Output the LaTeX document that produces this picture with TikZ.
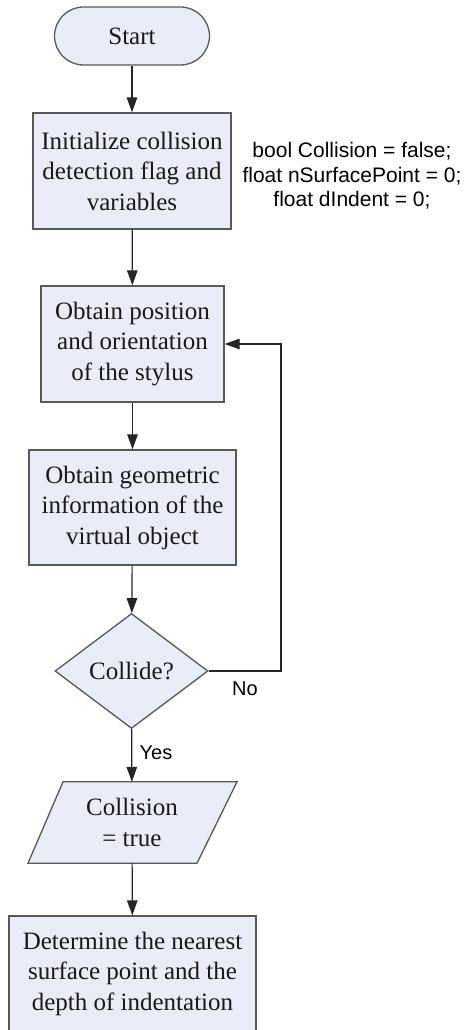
\documentclass[tikz,border=0pt]{standalone}
\usepackage{fontspec}
\setmainfont{Liberation Serif}
\newfontfamily\codefont{Liberation Sans}
\usetikzlibrary{arrows.meta,calc,shapes.geometric}

\definecolor{boxfill}{HTML}{E8EDF7}
\definecolor{boxline}{HTML}{595959}
\definecolor{wire}{HTML}{262626}

\tikzset{
  flowbox/.style={draw=boxline, fill=boxfill, line width=1.3pt, inner sep=0pt,
    align=center, text=black!90, font=\fontsize{25}{30.5}\selectfont},
  startbox/.style={flowbox, rounded corners=29pt, minimum width=155pt, minimum height=58pt},
  decision/.style={flowbox, diamond, aspect=1.33, minimum width=153pt, minimum height=115pt},
  iotext/.style={inner sep=0pt, align=center, text=black!90,
    font=\fontsize{25}{30.5}\selectfont, minimum width=140pt, minimum height=81pt},
  codetext/.style={align=center, inner sep=0pt, font=\codefont\fontsize{21}{24.5}\selectfont},
  branchlabel/.style={inner sep=0pt, font=\codefont\fontsize{20}{22}\selectfont},
  flow/.style={draw=wire, line width=1.2pt, -{Triangle[length=15pt,width=10.5pt]}}
}

\begin{document}
\begin{tikzpicture}[x=1pt,y=-1pt]
  \useasboundingbox (0,0) rectangle (466,1030);
  \clip (0,0) rectangle (466,1030);

  \node[startbox] (start) at (132,36) {Start};

  \node[flowbox, minimum width=198pt, minimum height=116pt] (init) at (132,171)
    {Initialize collision\\detection flag and\\variables};

  \node[codetext] (vars) at (352,176)
    {bool Collision = false;\\float nSurfacePoint = 0;\\float dIndent = 0;};

  \node[flowbox, minimum width=183pt, minimum height=116pt] (pose) at (132.5,344)
    {Obtain position\\and orientation\\of the stylus};

  \node[flowbox, minimum width=207pt, minimum height=115pt] (geom) at (132.5,507.5)
    {Obtain geometric\\information of the\\virtual object};

  \node[decision] (hit) at (131.5,671) {Collide?};

  % parallelogram drawn around an invisible text node
  \node[iotext] (flag) at (132,822.5) {Collision\\= true};
  \draw[draw=boxline, fill=boxfill, line width=1.3pt]
    ($(flag.north)+(-69,0)$) -- ($(flag.north)+(105,0)$) --
    ($(flag.south)+(65,0)$) -- ($(flag.south)+(-104,0)$) -- cycle;
  \node[iotext] at (flag) {Collision\\= true};

  \node[flowbox, minimum width=247pt, minimum height=115pt] (depth) at (132.5,973.5)
    {Determine the nearest\\surface point and the\\depth of indentation};

  % connectors
  \draw[flow] (start) -- (init);
  \draw[flow] (init) -- (pose);
  \draw[flow] (pose) -- (geom);
  \draw[flow] (geom) -- (hit);
  \draw[flow] (hit) -- (flag);
  \draw[flow] (flag) -- (depth);
  \coordinate (loop) at (281,671);
  \draw[flow] (hit.east) -- (loop) |- (pose.east);

  \node[branchlabel] (no) at (245,689) {No};
  \node[branchlabel] (yes) at (156,753) {Yes};
\end{tikzpicture}
\end{document}
